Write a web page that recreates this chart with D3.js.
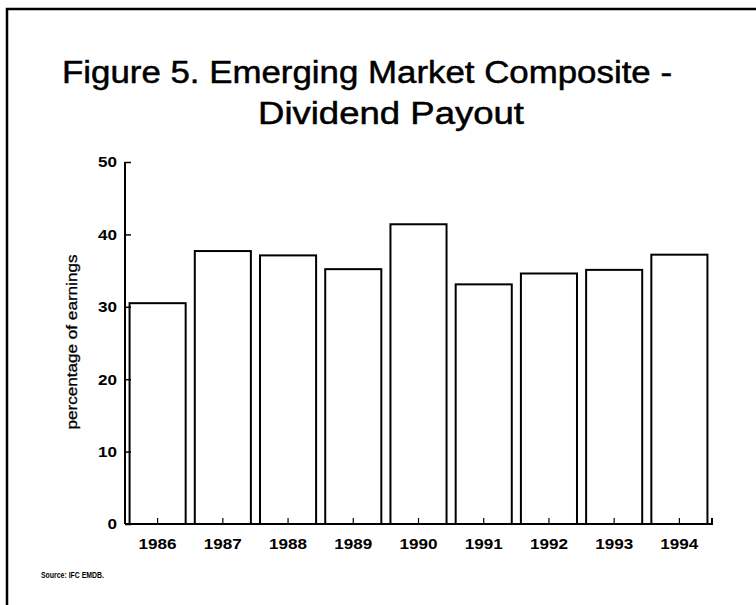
<!DOCTYPE html>
<head>
  <meta charset="UTF-8">
  <title>dividend payout</title>
  <script src="https://cdn.jsdelivr.net/npm/d3@7"></script>
  <style>
  body, html, svg{
    padding: 0;
    margin: 0;
  }
  body{
    background: #fff;
  }
  svg{
    display: block;
    font-family: "Liberation Sans", Arial, sans-serif;
  }
  </style>
</head>
<body>
  <script type="text/javascript">
  // data
  var years = ['1986', '1987', '1988', '1989', '1990', '1991', '1992', '1993', '1994'];
  var payout = [30.5, 37.7, 37.1, 35.2, 41.4, 33.1, 34.6, 35.1, 37.2];
  var yTicks = [0, 10, 20, 30, 40, 50];

  var width = 756;
  var height = 605;

  var svg = d3.select('body').append('svg')
    .attr('width', width)
    .attr('height', height);

  // frame (top and left edge only)
  svg.append('path')
    .attr('d', 'M7,605 V9 H756')
    .attr('fill', 'none')
    .attr('stroke', '#000')
    .attr('stroke-width', 2.5);

  // title
  var title = svg.append('g')
    .attr('font-size', 31)
    .attr('stroke', '#000')
    .attr('stroke-width', 0.5)
    .attr('lengthAdjust', 'spacingAndGlyphs');
  title.append('text')
    .attr('x', 367).attr('y', 83)
    .attr('text-anchor', 'middle')
    .attr('textLength', 610)
    .attr('lengthAdjust', 'spacingAndGlyphs')
    .text('Figure 5. Emerging Market Composite -');
  title.append('text')
    .attr('x', 391).attr('y', 124)
    .attr('text-anchor', 'middle')
    .attr('textLength', 266)
    .attr('lengthAdjust', 'spacingAndGlyphs')
    .text('Dividend Payout');

  // scales
  var x = d3.scaleBand()
    .domain(years)
    .range([125, 712])
    .paddingInner(0.14)
    .paddingOuter(0.07);

  var y = d3.scaleLinear()
    .domain([0, 50])
    .range([524, 162]);

  // bars
  svg.selectAll('rect.bar')
    .data(payout)
    .enter()
    .append('rect')
    .attr('class', 'bar')
    .attr('x', function(d, i) { return x(years[i]); })
    .attr('y', function(d) { return y(d); })
    .attr('width', x.bandwidth())
    .attr('height', function(d) { return y(0) - y(d); })
    .attr('fill', '#fff')
    .attr('stroke', '#000')
    .attr('stroke-width', 2);

  // y axis, ticks point inward
  var yAxis = svg.append('g')
    .attr('transform', 'translate(125,0)')
    .call(d3.axisRight(y).tickValues(yTicks).tickSize(6).tickFormat(''));
  yAxis.select('.domain').attr('d', 'M0,' + y(50) + 'V' + y(0)).attr('stroke-width', 2);
  yAxis.selectAll('.tick line').attr('stroke-width', 1.5);

  svg.selectAll('text.ylab')
    .data(yTicks)
    .enter()
    .append('text')
    .attr('class', 'ylab')
    .attr('x', 117)
    .attr('y', function(d) { return y(d); })
    .attr('dy', '0.36em')
    .attr('text-anchor', 'end')
    .attr('font-size', 15)
    .attr('font-weight', 'bold')
    .attr('textLength', function(d) { return String(d).length * 9.5; })
    .attr('lengthAdjust', 'spacingAndGlyphs')
    .text(function(d) { return d; });

  // x axis, ticks point up at band centres
  var xAxis = svg.append('g')
    .attr('transform', 'translate(0,' + y(0) + ')')
    .call(d3.axisTop(x).tickSize(6).tickSizeOuter(0).tickFormat(''));
  xAxis.select('.domain').attr('d', 'M125,0H712V-6').attr('stroke-width', 2);
  xAxis.selectAll('.tick line').attr('stroke-width', 1.2);

  svg.selectAll('text.xlab')
    .data(years)
    .enter()
    .append('text')
    .attr('class', 'xlab')
    .attr('x', function(d) { return x(d) + x.bandwidth() / 2; })
    .attr('y', 549)
    .attr('text-anchor', 'middle')
    .attr('font-size', 14)
    .attr('font-weight', 'bold')
    .attr('textLength', 38)
    .attr('lengthAdjust', 'spacingAndGlyphs')
    .text(function(d) { return d; });

  // y axis title
  svg.append('text')
    .attr('transform', 'translate(77,342) rotate(-90)')
    .attr('text-anchor', 'middle')
    .attr('font-size', 14)
    .attr('stroke', '#000')
    .attr('stroke-width', 0.3)
    .attr('textLength', 175)
    .attr('lengthAdjust', 'spacingAndGlyphs')
    .text('percentage of earnings');

  // source
  svg.append('text')
    .attr('x', 41).attr('y', 578)
    .attr('font-size', 9)
    .attr('font-weight', 'bold')
    .attr('textLength', 63)
    .attr('lengthAdjust', 'spacingAndGlyphs')
    .text('Source: IFC EMDB.');
  </script>
</body>
</html>
